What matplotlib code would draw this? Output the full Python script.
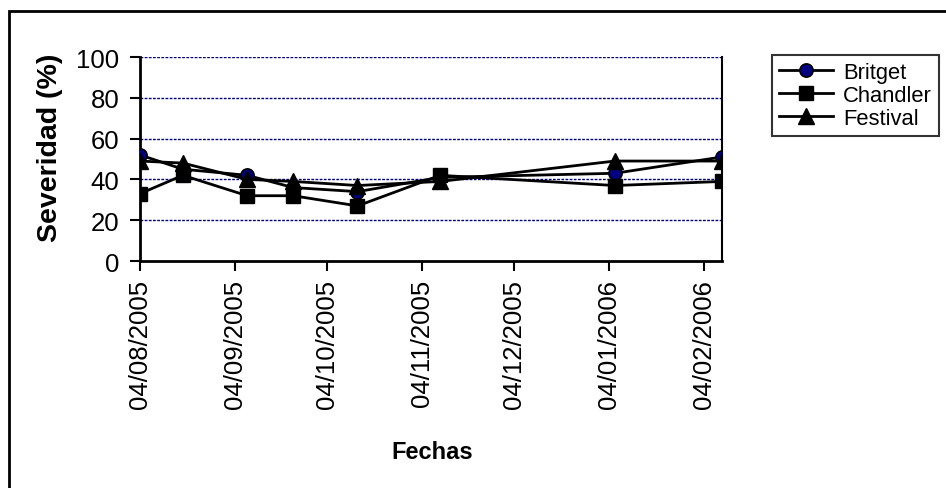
import datetime as dt
import matplotlib
matplotlib.use("Agg")
import matplotlib.pyplot as plt
import matplotlib.dates as mdates
from matplotlib.patches import Rectangle

plt.rcParams['font.family'] = ['Liberation Sans', 'DejaVu Sans']

# sampling dates and disease severity per variety
fechas = [dt.date(2005, 8, 4), dt.date(2005, 8, 18), dt.date(2005, 9, 8),
          dt.date(2005, 9, 23), dt.date(2005, 10, 14), dt.date(2005, 11, 10),
          dt.date(2006, 1, 6), dt.date(2006, 2, 10)]
britget = [52, 45, 42, 36, 34, 41, 43, 51]
chandler = [33, 42, 32, 32, 27, 42, 37, 39]
festival = [49, 48, 40, 39, 37, 39, 49, 49]
tick_fechas = [dt.date(2005, 8, 4), dt.date(2005, 9, 4), dt.date(2005, 10, 4),
               dt.date(2005, 11, 4), dt.date(2005, 12, 4), dt.date(2006, 1, 4),
               dt.date(2006, 2, 4)]

fig = plt.figure(figsize=(9.46, 4.89), dpi=100)
ax = fig.add_axes([140 / 946, 1 - 262 / 489, 582 / 946, 204 / 489])

ax.plot(fechas, britget, color='black', lw=2, marker='o', ms=9.5,
        mfc='#000080', mec='black', mew=1.2, label='Britget', zorder=3)
ax.plot(fechas, chandler, color='black', lw=2, marker='s', ms=9.5,
        mfc='black', mec='black', label='Chandler', zorder=3)
ax.plot(fechas, festival, color='black', lw=2, marker='^', ms=11,
        mfc='black', mec='black', label='Festival', zorder=3)

ax.set_xlim(fechas[0], fechas[-1])
ax.set_ylim(0, 100)
ax.set_yticks(range(0, 101, 20))
ax.set_xticks(tick_fechas)
ax.xaxis.set_major_formatter(mdates.DateFormatter('%d/%m/%Y'))

for v in range(20, 101, 20):
    ax.axhline(v, color='#000080', lw=1, ls=(0, (2, 1)), zorder=1)

for s in ['left', 'bottom']:
    ax.spines[s].set_linewidth(2)
ax.spines['top'].set_visible(False)
ax.spines['right'].set_linewidth(1.5)

ax.tick_params(axis='both', direction='out', length=7, width=1.5,
               labelsize=18.5, colors='black')
ax.tick_params(axis='y', pad=8)
ax.tick_params(axis='x', pad=6)
for lbl in ax.get_xticklabels():
    lbl.set_rotation(90)
    lbl.set_va('top')
    lbl.set_ha('center')

ax.set_ylabel('Severidad (%)', fontsize=20.5, fontweight='bold')
ax.yaxis.set_label_coords(-0.155, 0.56)
ax.yaxis.label.set_va('center')
ax.set_xlabel('Fechas', fontsize=17, fontweight='bold')
ax.xaxis.set_label_coords(0.502, -0.936)
ax.xaxis.label.set_va('center')

leg = ax.legend(loc='upper left', bbox_to_anchor=(772 / 946, 1 - 56 / 489),
                bbox_transform=fig.transFigure, fontsize=15.8, frameon=True,
                fancybox=False, borderaxespad=0, handlelength=2.5,
                handletextpad=0.45, labelspacing=0.1, borderpad=0.3)
leg.get_frame().set_edgecolor('black')
leg.get_frame().set_linewidth(1.5)

# chart area border
fig.add_artist(Rectangle((9 / 946, -0.2), 1.5, 1 - 12 / 489 + 0.2,
                         transform=fig.transFigure, fill=False,
                         edgecolor='black', lw=2))

fig.savefig('out.png', dpi=100)
